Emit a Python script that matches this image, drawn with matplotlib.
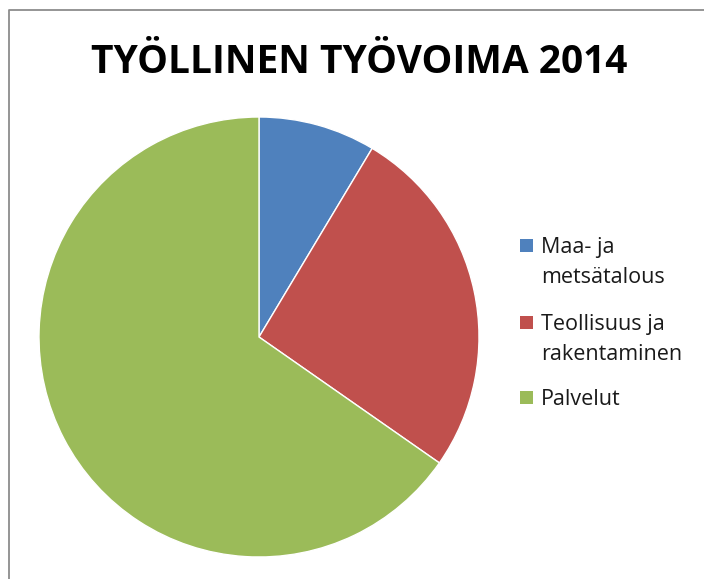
import matplotlib
matplotlib.use("Agg")
import matplotlib.pyplot as plt
from matplotlib.lines import Line2D
from matplotlib.patches import Rectangle

title = "TYÖLLINEN TYÖVOIMA 2014"
categories = ["Maa- ja\nmetsätalous", "Teollisuus ja\nrakentaminen", "Palvelut"]
values = [8.6, 26.1, 65.3]
colors = ["#4F81BD", "#C0504D", "#9BBB59"]

fig = plt.figure(figsize=(7.04, 5.79), dpi=100)
W, H = 704, 579

def fx(x):
    return x / W

def fy(y):
    return 1 - y / H

# outer border (only top and left edges are visible)
fig.add_artist(Line2D([fx(8.5), fx(8.5), 1.0], [0.0, fy(9.5), fy(9.5)], transform=fig.transFigure,
                      color="#8c8c8c", linewidth=1.3))

ax = fig.add_axes([fx(39), fy(557), 440 / W, 440 / H])
ax.pie(values, colors=colors, startangle=90, counterclock=False,
       wedgeprops=dict(linewidth=1.0, edgecolor="white"))
ax.set_xlim(-1, 1)
ax.set_ylim(-1, 1)
ax.set_aspect("equal")

fig.text(fx(359), fy(73), title, ha="center", va="baseline", fontsize=28, fontweight="bold",
         family=["Open Sans", "DejaVu Sans"])

# legend
baselines = [253, 330, 405]
for lab, c, yb in zip(categories, colors, baselines):
    fig.add_artist(Rectangle((fx(520), fy(yb - 1)), 13 / W, 13 / H, transform=fig.transFigure,
                             facecolor=c, edgecolor="none"))
    for i, line in enumerate(lab.split("\n")):
        fig.text(fx(541), fy(yb + 30 * i), line, ha="left", va="baseline", fontsize=15.5,
                 family=["Open Sans", "DejaVu Sans"], color="#1a1a1a")

fig.savefig("out.png", dpi=100)
